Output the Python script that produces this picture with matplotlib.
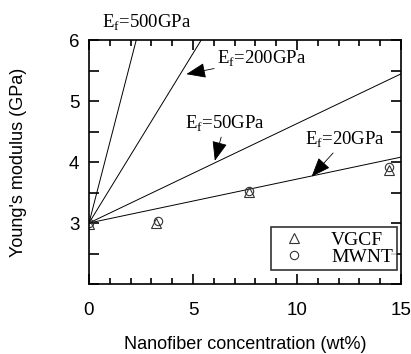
import numpy as np
import matplotlib.pyplot as plt
from matplotlib.ticker import MultipleLocator

# measured points (wt%, GPa)
vgcf_x = [0.0, 3.2, 7.7, 14.4]
vgcf_y = [2.98, 3.0, 3.51, 3.87]
mwnt_x = [0.0, 3.3, 7.7, 14.4]
mwnt_y = [3.0, 3.04, 3.53, 3.91]

# rule-of-mixtures lines: matrix modulus and slope (GPa per wt%)
E_matrix = 3.0
line_labels = ['500', '200', '50', '20']
line_slopes = [1.32, 0.556, 0.163, 0.072]

plt.rcParams['font.family'] = ['Liberation Sans', 'DejaVu Sans']
serif = ['Liberation Serif', 'DejaVu Serif']

fig = plt.figure(figsize=(4.11, 3.54), dpi=100)
ax = fig.add_axes([0.2165, 0.1977, 0.7592, 0.6893])

xx = np.array([0, 15])
for s in line_slopes:
    ax.plot(xx, E_matrix + s * xx, color='black', lw=0.7)

ax.plot(vgcf_x, vgcf_y, ls='none', marker='^', ms=7, mfc='none', mec='#333333',
        mew=0.8, label='VGCF')
ax.plot(mwnt_x, mwnt_y, ls='none', marker='o', ms=6, mfc='none', mec='#333333',
        mew=0.8, label='MWNT')

ax.set_xlim(0, 15)
ax.set_ylim(2, 6)
ax.xaxis.set_major_locator(MultipleLocator(5))
ax.xaxis.set_minor_locator(MultipleLocator(1))
ax.yaxis.set_minor_locator(MultipleLocator(0.5))
ax.set_yticks([3, 4, 5, 6])
ax.tick_params(which='both', direction='in', top=True, right=True, width=1.2)
ax.tick_params(which='major', length=7, labelsize=13.5)
ax.tick_params(axis='x', which='major', pad=13)
ax.tick_params(axis='y', which='major', pad=7)
ax.tick_params(which='minor', length=4)
ax.tick_params(axis='y', which='minor', length=7)
for sp in ax.spines.values():
    sp.set_linewidth(1.2)

ax.set_xlabel('Nanofiber concentration (wt%)', fontsize=13)
ax.set_ylabel("Young's modulus (GPa)", fontsize=13)
ax.xaxis.set_label_coords(0.5, -0.215)
ax.yaxis.set_label_coords(-0.2, 0.5)

arrow = dict(arrowstyle='-|>,head_length=0.9,head_width=0.35', color='black', lw=0.6,
             shrinkA=0, shrinkB=0)
fs = 13.5
ax.text(0.62, 6.28, r'E$_\mathregular{f}$=500GPa', family=serif, fontsize=fs,
        va='center', clip_on=False)
ax.annotate(r'E$_\mathregular{f}$=200GPa', xy=(4.68, 5.44), xytext=(6.15, 5.69),
            family=serif, fontsize=fs, va='center', arrowprops=arrow)
ax.annotate(r'E$_\mathregular{f}$=50GPa', xy=(6.05, 4.02), xytext=(4.6, 4.62),
            family=serif, fontsize=fs, va='center', arrowprops=arrow)
ax.annotate(r'E$_\mathregular{f}$=20GPa', xy=(10.7, 3.76), xytext=(10.38, 4.36),
            family=serif, fontsize=fs, va='center', arrowprops=arrow)

leg = ax.legend(loc='lower right', bbox_to_anchor=(0.987, 0.057), borderaxespad=0,
                frameon=True, fancybox=False, edgecolor='black',
                prop={'family': serif, 'size': 14},
                handletextpad=0.9, borderpad=0.2, labelspacing=0.0, handlelength=2.0)
leg.get_frame().set_linewidth(1.2)

fig.savefig('out.png', dpi=100)
